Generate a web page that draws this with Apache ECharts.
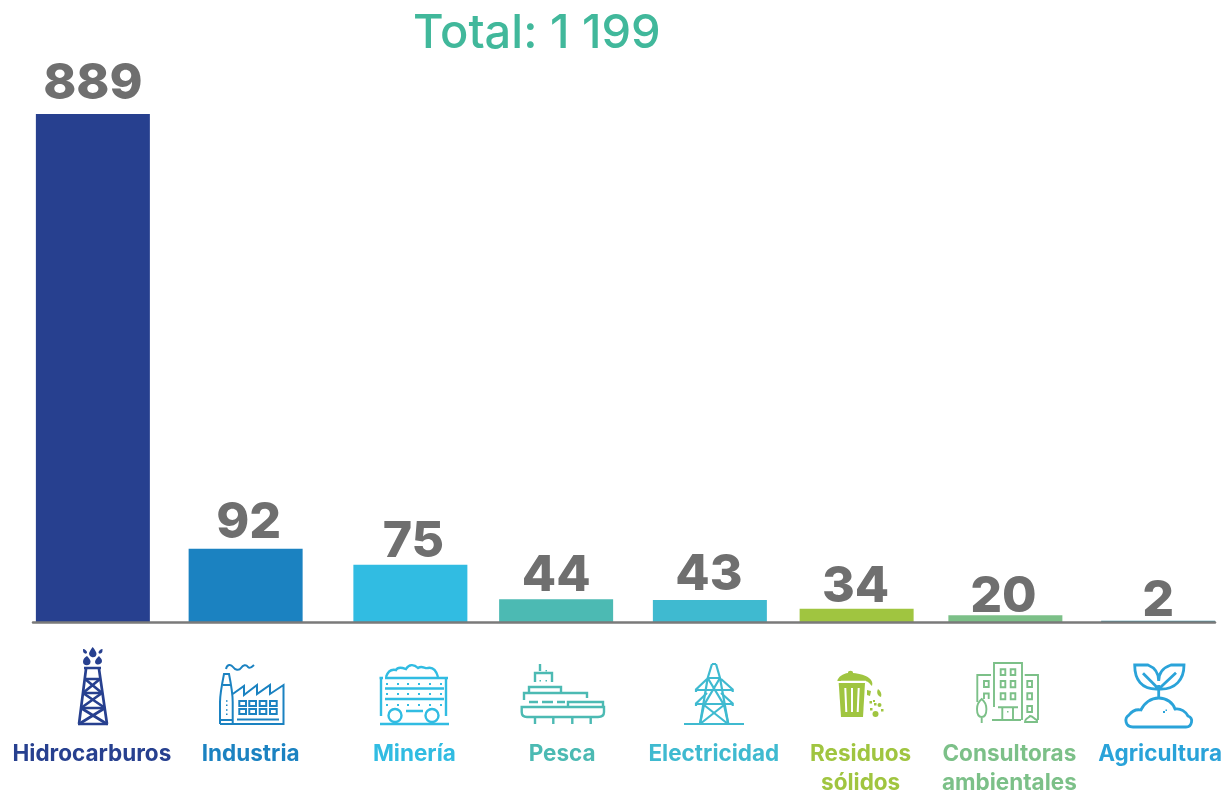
<!DOCTYPE html>
<html>
<head>
<meta charset="utf-8">
<style>html,body{margin:0;padding:0;background:#fff}#chart{width:1228px;height:792px}</style>
<script src="https://cdn.jsdelivr.net/npm/echarts@6/dist/echarts.min.js"></script>
</head>
<body>
<div id="chart"></div>
<script>
var titleText = 'Total: 1 199';
var categories = ['Hidrocarburos', 'Industria', 'Minería', 'Pesca', 'Electricidad', 'Residuos\nsólidos', 'Consultoras\nambientales', 'Agricultura'];
var values = [889, 92, 75, 44, 43, 34, 20, 2];
// the small bars in the picture are not drawn to the same scale as their printed numbers,
// so the drawn height is read off separately, in units of the axis
var drawnHeights = [889, 128, 100, 40, 38.5, 23, 12, 2];

var colors = ['#27408f', '#1b82c1', '#31bce2', '#4cbab3', '#3fbad0', '#a0c540', '#7cc088', '#2aa3d9'];
var lastBarColor = '#3f8c9e';

// the bars are not evenly spaced in the picture: offset from the centre of each band, px
var barNudge = [-14, -9, 8, 6, 12, 11, 12, 17];
var valueNudge = [-14, -6, 11, 6, 11, 10, 10, 17];
var valueLift = [30, 26, 23, 23, 25, 22, 18, 20];
var nameNudge = [-15, -4, 12, 12, 16, 15, 16, 19];

// line icons under the axis, page coordinates
var icons = [
    {color: colors[0], width: 2.7, stroke: [
        'M84 668H101 M86 669L79 724 M99 669L107 724 M78 724H108 M85 679H100 M83 693H102 M81 708H105',
        'M85 679L102 693 M100 679L83 693 M83 693L105 708 M102 693L81 708 M81 708L107 724 M105 708L79 724'
    ], fill: [
        'M92.7 647C95 650 96.5 652 96.5 654A3.8 3.8 0 0 1 89 654C89 652 90.5 650 92.7 647Z',
        'M87 656C89 658 90.5 660 90.5 661.5A3.7 3.7 0 0 1 83 661.5C83 659 85 657 87 656Z',
        'M99 656C97 658 95 660 95 662C95 664 97 664.5 98 664.5C100 664.5 102 663 102 661C102 659 100 657.5 99 656Z',
        'M83 649C85 649 87 651 87 652.5C87 654 84.5 654 83.5 652.5C83 651.5 83 650 83 649Z',
        'M102.5 649C100.5 649 98.5 651 98.5 652.5C98.5 654 101 654 102 652.5C102.5 651.5 102.5 650 102.5 649Z'
    ]},
    {color: colors[1], width: 2, stroke: [
        'M220 724V702C220 694 222 684 224 674H229C231 684 232.7 694 232.7 702V724 M223 685H231 M220 724H283.5V685L270 694V685L257 694V685L244 695V686L232.7 694 M220 720H232 M237 719.5H279',
        'M239.3 701H246V706H239.3Z M249.3 701H256V706H249.3Z M259.7 701H266.3V706H259.7Z M270 701H276.7V706H270Z',
        'M239.3 709H246V714H239.3Z M249.3 709H256V714H249.3Z M259.7 709H266.3V714H259.7Z M270 709H276.7V714H270Z',
        'M226 669C227 664 231 664 233 667C235 670 239 671 241 668C243 665 246 664 248 667C250 669 252 667 254 665'
    ], fill: ['M226 700.2h1.5v1.5h-1.5Z M226 704.6h1.5v1.5h-1.5Z M226 709.2h1.5v1.5h-1.5Z M226 713.6h1.5v1.5h-1.5Z']},
    {color: colors[2], width: 2.4, stroke: [
        'M380 724H449 M381 678V716 M446 678V716 M379.5 678H383 M444 678H448 M385 678H444 M385 688.5H444 M385 699H444 M406 711H423',
        'M395 709A6.5 6.5 0 1 0 395.01 709Z M432 709A6.5 6.5 0 1 0 432.01 709Z M386 677C388 671 392 669 396 670C398 666 403 668 406 669C409 664 414 664 418 668C422 665 425 669 428 668C433 667 436 670 438 677'
    ], fill: ['M397 683h2v2h-2Z M407 683h2v2h-2Z M418 683h2v2h-2Z M429 683h2v2h-2Z M440 683h2v2h-2Z M386 683h2v2h-2Z M386 693h2v2h-2Z M397 693h2v2h-2Z M407 693h2v2h-2Z M418 693h2v2h-2Z M429 693h2v2h-2Z M440 693h2v2h-2Z M386 704h2v2h-2Z M397 704h2v2h-2Z M407 704h2v2h-2Z M418 704h2v2h-2Z M429 704h2v2h-2Z M440 704h2v2h-2Z']},
    {color: colors[3], width: 2.4, stroke: [
        'M540 664V671 M535 682V673H552V682 M529 693V687H561V693 M524 700V693H587V698 M529 702H538 M542 702H553 M557 702H565',
        'M568 707V702H603V707 M521.7 707H604V712C604 715 602 717 598 717H527C523.5 717 521.7 715 521.7 712Z M535 717V724 M553.3 717V724 M572.3 717V724 M590.7 717V724'
    ], fill: ['M545.5 670h1.5v1.5h-1.5Z M539.5 680h1.5v1.5h-1.5Z M545.5 680h1.5v1.5h-1.5Z']},
    {color: colors[4], width: 2.2, stroke: [
        'M684 724H744 M712 664H716 M712 664L707.7 678L700 724 M716 664L720 678L728.3 724 M707.7 678H720 M707 679L696 689.5V692 M721 679L732.7 689.5V692 M696 690H732.7',
        'M707 693L696 703.5V706 M721 693L732.7 703.5V706 M696 704H732.7 M707.7 678L724 705L728.3 724 M720 678L704 705L700 724 M704 705L728 724 M724 705L700 724'
    ], fill: []},
    {color: colors[5], width: 1.2, stroke: [], fill: [
        'M837.3 681C838 677 843 673.5 848 673C847.5 670 853.5 670 853 673C860 673.5 866 675.5 869 678C872 680 873 683 872 686C870 684 868 681 865 681Z',
        'M838.7 683H865L863 717H841Z',
        'M867 690L871 691L870 696L867 695Z M878 689C881 691 882 694 881 697C878 696 876 693 878 689Z M869.5 701h2.5v2.5h-2.5Z M873 700h2v2h-2Z',
        'M879.5 703A2 2 0 1 0 879.5 707A2 2 0 1 0 879.5 703Z M874 703h2.5v2.5h-2.5Z M870 708h2.5v2.5h-2.5Z M881 709h2.5v2.5h-2.5Z',
        'M875.5 711A3 3 0 1 0 875.5 717A3 3 0 1 0 875.5 711Z'
    ]},
    {color: colors[6], width: 1.9, stroke: [
        'M994 707V663H1022V720 M977.3 702V675H991 M1024.7 675H1038V720 M992 720H1021 M1025 722C1025 718 1029 718 1030 716C1033 716 1034 719 1037 720L1037 722Z',
        'M1000.7 669.3h4.6v5.7h-4.6Z M1010.7 669.3h4.6v5.7h-4.6Z M1000.7 681h4.6v6.3h-4.6Z M1010.7 681h4.6v6.3h-4.6Z M1000.7 693.3h4.6v6h-4.6Z M1010.7 693.3h4.6v6h-4.6Z',
        'M984 681h4.7v6h-4.7Z M984 699V693.5H988.7V699 M1027.3 681h4.7v6h-4.7Z M1027.3 693.3h4.7v6h-4.7Z M1027.3 706h4.7v6h-4.7Z',
        'M998 707.3H1018 M1002.3 707.3V720 M1013 707.3V720',
        'M981.7 699C978 702 977 706 977 709C977 714 979 717 981.7 717C984.4 717 986.4 714 986.4 709C986.4 706 985.4 702 981.7 699Z M981.7 717V723'
    ], fill: ['M1007 711h1.5v1.5h-1.5Z']},
    {color: colors[7], width: 2.8, stroke: [
        'M1133 727C1125 727 1124 718 1129 715C1132 711 1136 709 1141 710C1144 703 1151 698 1158.7 698C1167 698 1173 703 1175 709C1181 708 1186 712 1188 716C1194 718 1192 727 1186 727Z',
        'M1158.7 698V685 M1158.7 689C1141 690 1134.7 679 1134.7 665H1148C1153 667 1158.7 671 1158.7 681 M1158.7 689C1176 690 1184 679 1184 665H1171C1165 667 1158.7 671 1158.7 681 M1143 673.3L1158.7 689 M1176 672.7L1158.7 689'
    ], fill: ['M1163 711h2v2h-2Z M1165.5 709.5h1.5v1.5h-1.5Z']}
];

// the bucket ribs are white, cut over the filled body
var ribs = 'M845.3 688L846.3 712 M852 688V712 M858.7 688L857.7 712 M841 681.8H866';

function formatName(name, i) {
    return name.split('\n').map(function (line) {
        return '{n' + i + '|' + line + '}';
    }).join('\n');
}

var rich = {};
categories.forEach(function (c, i) {
    var d = nameNudge[i];
    rich['n' + i] = {
        color: colors[i],
        fontFamily: 'Inter',
        fontSize: 22.5,
        fontWeight: 700,
        lineHeight: 29,
        padding: d > 0 ? [0, 0, 0, 2 * d] : [0, -2 * d, 0, 0]
    };
});

function renderBar(params, api) {
    var i = api.value(0);
    var top = api.coord([i, api.value(1)]);
    var base = api.coord([i, 0]);
    var band = 114;
    return {
        type: 'group',
        children: [
            {
                type: 'rect',
                shape: {x: top[0] + barNudge[i] - band / 2, y: top[1], width: band, height: base[1] - top[1]},
                style: {fill: i === 7 ? lastBarColor : colors[i]}
            },
            {
                type: 'text',
                style: {
                    x: top[0] + valueNudge[i],
                    y: top[1] - valueLift[i],
                    text: String(api.value(2)),
                    align: 'center',
                    verticalAlign: 'middle',
                    fill: '#6f6f6f',
                    font: '800 50px Inter'
                }
            }
        ]
    };
}

function renderIcon(params, api) {
    var icon = icons[api.value(0)];
    var children = [];
    icon.stroke.forEach(function (d) {
        children.push({
            type: 'path',
            shape: {pathData: d},
            style: {fill: 'none', stroke: icon.color, lineWidth: icon.width}
        });
    });
    icon.fill.forEach(function (d) {
        children.push({
            type: 'path',
            shape: {pathData: d},
            style: {fill: icon.color}
        });
    });
    if (api.value(0) === 5) {
        children.push({
            type: 'path',
            shape: {pathData: ribs},
            style: {fill: 'none', stroke: '#fff', lineWidth: 2}
        });
    }
    return {type: 'group', children: children};
}

var myChart = echarts.init(document.getElementById('chart'));
var option = {
    animation: false,
    backgroundColor: '#fff',
    title: {
        text: titleText,
        left: 408,
        top: 5,
        textStyle: {color: '#41b89b', fontFamily: 'Inter', fontSize: 47, fontWeight: 500}
    },
    grid: {left: 33, right: 13, top: 114, bottom: 170, outerBoundsMode: 'none'},
    xAxis: {
        type: 'category',
        data: categories,
        z: 5,
        axisTick: {show: false},
        axisLine: {lineStyle: {color: '#7a7a7a', width: 2.5}},
        axisLabel: {
            interval: 0,
            margin: 118,
            formatter: formatName,
            rich: rich
        }
    },
    yAxis: {
        type: 'value',
        min: 0,
        max: 889,
        show: false
    },
    series: [
        {
            type: 'custom',
            renderItem: renderBar,
            encode: {x: 0, y: 1},
            data: categories.map(function (c, i) {
                return [i, drawnHeights[i], values[i]];
            })
        },
        {
            type: 'custom',
            renderItem: renderIcon,
            encode: {x: 0},
            silent: true,
            data: categories.map(function (c, i) {
                return [i];
            })
        }
    ]
};
myChart.setOption(option);
</script>
</body>
</html>
